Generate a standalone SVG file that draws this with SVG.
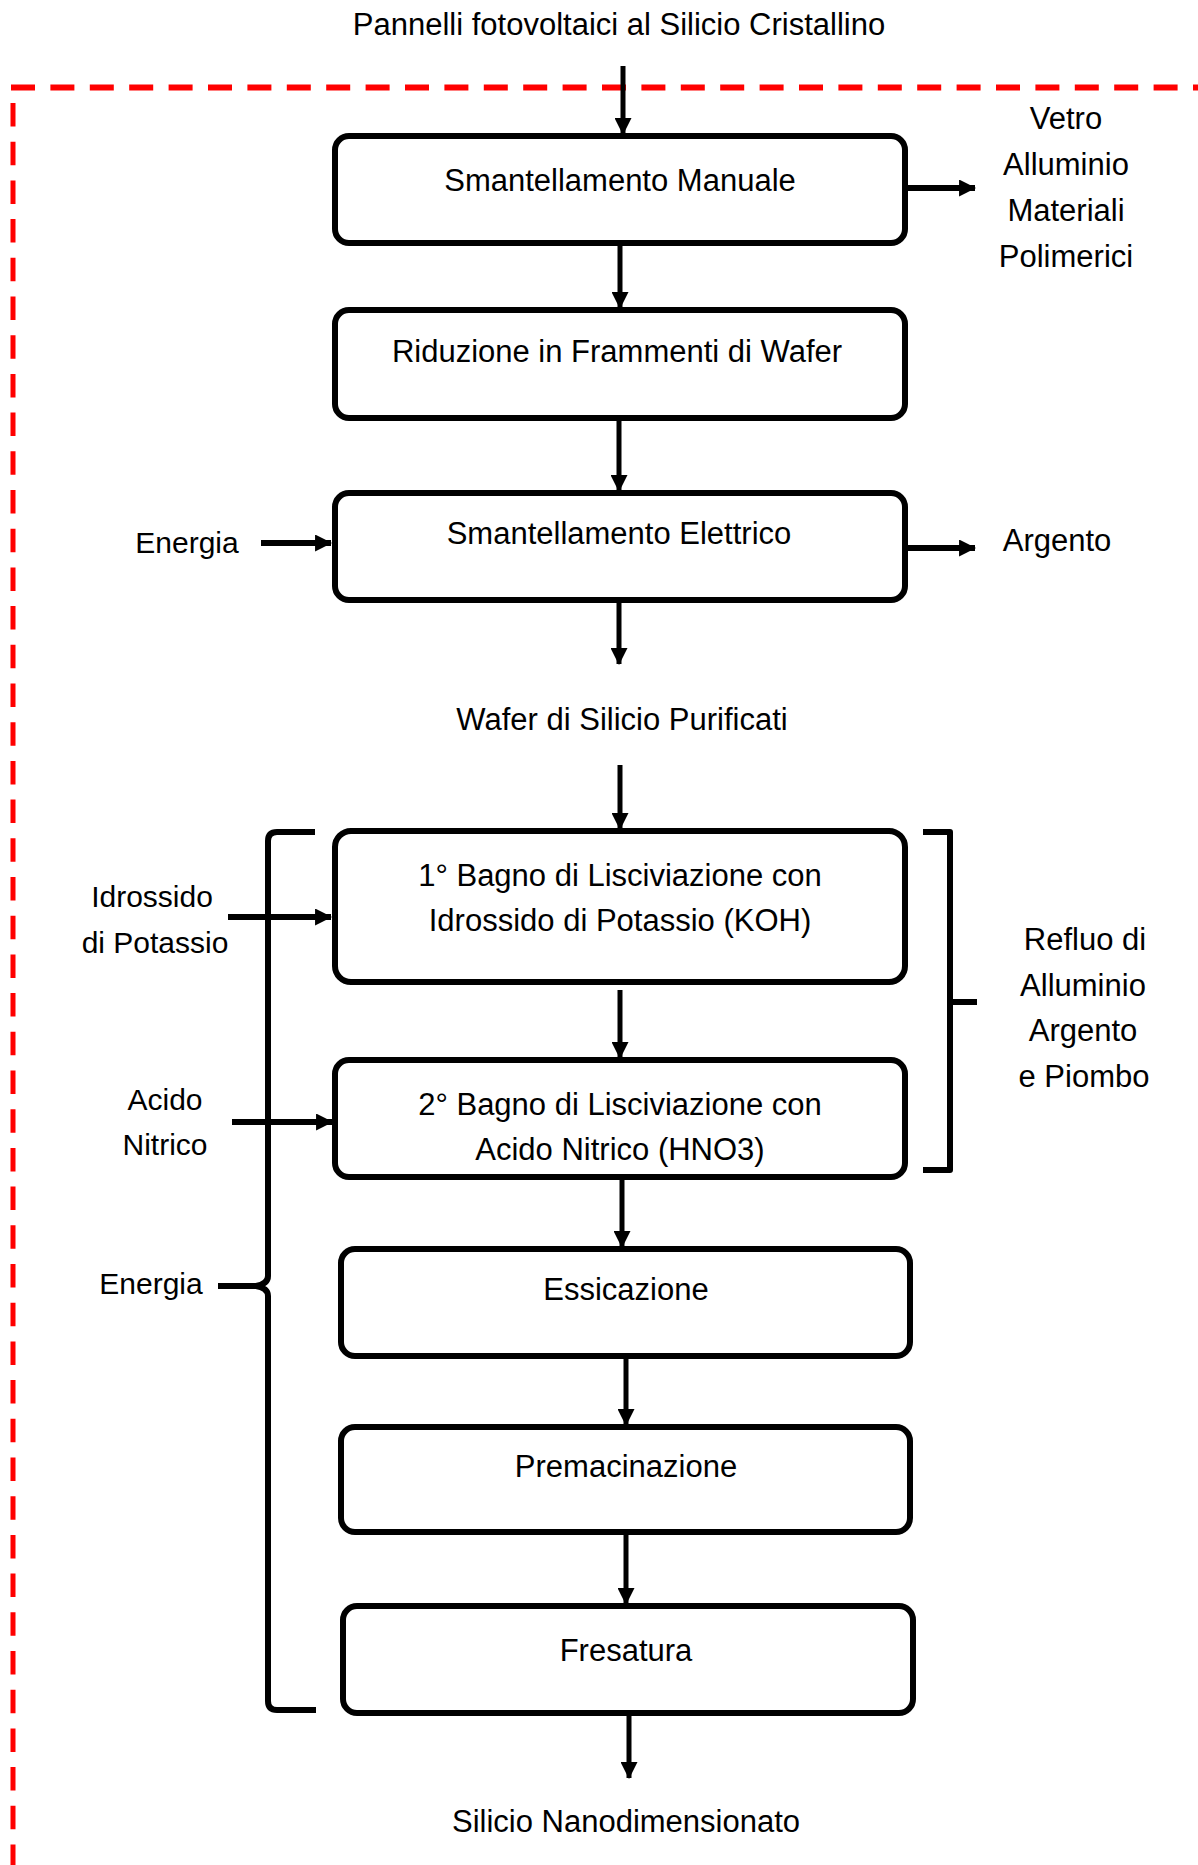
<svg xmlns="http://www.w3.org/2000/svg" width="1198" height="1865" viewBox="0 0 1198 1865">
<style>
  .box{fill:#fff;stroke:#000;stroke-width:6}
  .t{font-family:"Liberation Sans",Arial,sans-serif;font-size:31px;fill:#000;text-anchor:middle}
  .s{font-size:30px}
  .c{stroke:#000;stroke-width:5;fill:none}
  .ch{stroke:#000;stroke-width:6;fill:none}
  .br{stroke:#000;stroke-width:6;fill:none;stroke-linejoin:round}
  .red{stroke:#ff0000;fill:none}
</style>
<defs>
  <marker id="ah" viewBox="0 0 16 16" refX="15" refY="8" markerWidth="17" markerHeight="17" markerUnits="userSpaceOnUse" orient="auto">
    <path d="M0,0 L16,8 L0,16 Z" fill="#000"/>
  </marker>
</defs>
<rect width="1198" height="1865" fill="#fff"/>

<g id="boundary">
  <line class="red" x1="11" y1="87.5" x2="1198" y2="87.5" stroke-width="6" stroke-dasharray="24 15.4"/>
  <line class="red" x1="13" y1="103" x2="13" y2="1865" stroke-width="5" stroke-dasharray="23.5 15.2"/>
</g>

<g id="connectors">
  <line class="c" x1="623" y1="66" x2="623" y2="134" marker-end="url(#ah)"/>
  <line class="c" x1="620" y1="243" x2="620" y2="308" marker-end="url(#ah)"/>
  <line class="c" x1="619" y1="418" x2="619" y2="491" marker-end="url(#ah)"/>
  <line class="c" x1="619" y1="600" x2="619" y2="664" marker-end="url(#ah)"/>
  <line class="c" x1="620" y1="765" x2="620" y2="829" marker-end="url(#ah)"/>
  <line class="c" x1="620" y1="990" x2="620" y2="1058" marker-end="url(#ah)"/>
  <line class="c" x1="622" y1="1177" x2="622" y2="1247" marker-end="url(#ah)"/>
  <line class="c" x1="626" y1="1356" x2="626" y2="1425" marker-end="url(#ah)"/>
  <line class="c" x1="626" y1="1532" x2="626" y2="1604" marker-end="url(#ah)"/>
  <line class="c" x1="629" y1="1713" x2="629" y2="1778" marker-end="url(#ah)"/>
  <line class="ch" x1="905" y1="188" x2="975" y2="188" marker-end="url(#ah)"/>
  <line class="ch" x1="261" y1="543" x2="331" y2="543" marker-end="url(#ah)"/>
  <line class="ch" x1="905" y1="548" x2="975" y2="548" marker-end="url(#ah)"/>
  <line class="ch" x1="228" y1="917" x2="331" y2="917" marker-end="url(#ah)"/>
  <line class="ch" x1="232" y1="1122" x2="332" y2="1122" marker-end="url(#ah)"/>
  <line class="ch" x1="218" y1="1286" x2="257" y2="1286"/>
  <path id="left-brace" class="br" d="M315,832 L277,832 Q268,832 268,841 L268,1276 Q268,1284 256,1286 Q268,1288 268,1296 L268,1701 Q268,1710 277,1710 L316,1710"/>
  <path id="right-bracket" class="br" d="M923,832 L950,832 L950,1170 L923,1170 M950,1002 L977,1002"/>
</g>

<g id="n-title"><text class="t" x="619" y="35">Pannelli fotovoltaici al Silicio Cristallino</text></g>

<g id="n-smantellamento-manuale">
  <rect class="box" x="335" y="136" width="570" height="107" rx="14"/>
  <text class="t" x="620" y="191">Smantellamento Manuale</text>
</g>
<g id="n-out1">
  <text class="t" x="1066" y="129">Vetro</text>
  <text class="t" x="1066" y="175">Alluminio</text>
  <text class="t" x="1066" y="221">Materiali</text>
  <text class="t" x="1066" y="267">Polimerici</text>
</g>

<g id="n-riduzione">
  <rect class="box" x="335" y="310" width="570" height="108" rx="14"/>
  <text class="t" x="617" y="362">Riduzione in Frammenti di Wafer</text>
</g>

<g id="n-energia1"><text class="t s" x="187" y="553">Energia</text></g>
<g id="n-smantellamento-elettrico">
  <rect class="box" x="335" y="493" width="570" height="107" rx="14"/>
  <text class="t" x="619" y="544">Smantellamento Elettrico</text>
</g>
<g id="n-argento"><text class="t" x="1057" y="551">Argento</text></g>

<g id="n-wafer"><text class="t" x="622" y="730">Wafer di Silicio Purificati</text></g>

<g id="n-koh-in">
  <text class="t s" x="152" y="907">Idrossido</text>
  <text class="t s" x="155" y="953">di Potassio</text>
</g>
<g id="n-bagno1">
  <rect class="box" x="335" y="831" width="570" height="151" rx="16"/>
  <text class="t" x="620" y="886">1° Bagno di Lisciviazione con</text>
  <text class="t" x="620" y="931">Idrossido di Potassio (KOH)</text>
</g>

<g id="n-hno3-in">
  <text class="t s" x="165" y="1110">Acido</text>
  <text class="t s" x="165" y="1155">Nitrico</text>
</g>
<g id="n-bagno2">
  <rect class="box" x="335" y="1060" width="570" height="117" rx="14"/>
  <text class="t" x="620" y="1115">2° Bagno di Lisciviazione con</text>
  <text class="t" x="620" y="1160">Acido Nitrico (HNO3)</text>
</g>

<g id="n-refluo">
  <text class="t" x="1085" y="950">Refluo di</text>
  <text class="t" x="1083" y="996">Alluminio</text>
  <text class="t" x="1083" y="1041">Argento</text>
  <text class="t" x="1084" y="1087">e Piombo</text>
</g>

<g id="n-energia2"><text class="t s" x="151" y="1294">Energia</text></g>

<g id="n-essicazione">
  <rect class="box" x="341" y="1249" width="569" height="107" rx="14"/>
  <text class="t" x="626" y="1300">Essicazione</text>
</g>
<g id="n-premacinazione">
  <rect class="box" x="341" y="1427" width="569" height="105" rx="14"/>
  <text class="t" x="626" y="1477">Premacinazione</text>
</g>
<g id="n-fresatura">
  <rect class="box" x="343" y="1606" width="570" height="107" rx="14"/>
  <text class="t" x="626" y="1661">Fresatura</text>
</g>
<g id="n-output"><text class="t" x="626" y="1832">Silicio Nanodimensionato</text></g>
</svg>
